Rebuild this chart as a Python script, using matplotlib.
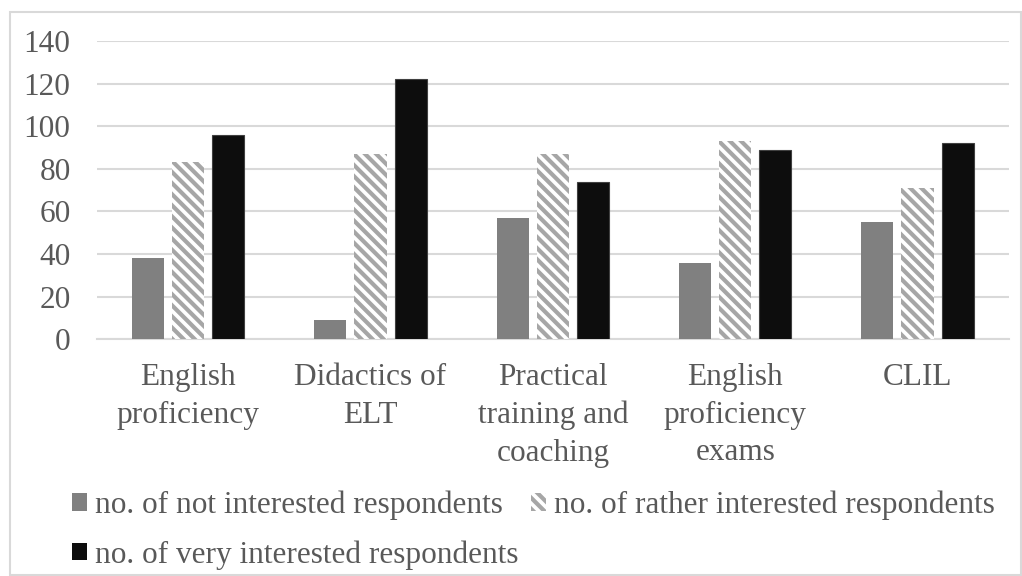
import numpy as np
import matplotlib
matplotlib.use("Agg")
from matplotlib import pyplot as plt
from matplotlib.patches import Rectangle, Patch

categories = ["English\nproficiency", "Didactics of\nELT", "Practical\ntraining and\ncoaching",
              "English\nproficiency\nexams", "CLIL"]
not_interested = [38, 9, 57, 36, 55]
rather_interested = [83, 87, 87, 93, 71]
very_interested = [96, 122, 74, 89, 92]
series_labels = ["no. of not interested respondents",
                 "no. of rather interested respondents",
                 "no. of very interested respondents"]

plt.rcParams['font.family'] = ['Liberation Serif', 'DejaVu Serif']
plt.rcParams['hatch.linewidth'] = 3.0
plt.rcParams['hatch.color'] = '#a6a6a6'

txt = '#595959'
grid = '#d9d9d9'
fs = 22.5

fig = plt.figure(figsize=(10.22, 5.76), dpi=100)
ax = fig.add_axes([0.0949, 0.411, 0.987 - 0.0949, 0.929 - 0.411])

x = np.arange(len(categories))
w = 0.176
step = 0.22
b1 = ax.bar(x - step, not_interested, w, color='#808080', linewidth=0, zorder=3)
b2 = ax.bar(x, rather_interested, w, color='white', edgecolor='#a6a6a6', hatch='\\\\\\',
            linewidth=0, zorder=3)
b3 = ax.bar(x + step, very_interested, w, color='#0d0d0d', edgecolor='#404040',
            linewidth=0.8, zorder=3)

ax.set_xlim(-0.5, len(categories) - 0.5)
ax.set_ylim(0, 140)
ax.set_yticks(np.arange(0, 141, 20))
ax.yaxis.grid(True, color=grid, linewidth=1.5, zorder=0)
ax.set_axisbelow(True)
for s in ['top', 'right', 'left']:
    ax.spines[s].set_visible(False)
ax.spines['bottom'].set_color(grid)
ax.spines['bottom'].set_linewidth(1.5)
ax.tick_params(axis='y', length=0, pad=19, labelsize=fs, labelcolor=txt)
ax.tick_params(axis='x', length=0, pad=17, labelsize=fs, labelcolor=txt)
ax.set_xticks(x)
ax.set_xticklabels(categories, linespacing=1.4)

handles = [Patch(facecolor='#808080'), Patch(facecolor='#0d0d0d'),
           Patch(facecolor='white', edgecolor='#a6a6a6', hatch='\\\\\\', linewidth=0)]
labels = [series_labels[0], series_labels[2], series_labels[1]]
leg = fig.legend(handles, labels, ncol=2, loc='upper left', bbox_to_anchor=(0.043, 0.197),
                 frameon=False, fontsize=fs, handlelength=0.48, handleheight=0.48,
                 handletextpad=0.25, columnspacing=0.4, labelspacing=0.64)
for t in leg.get_texts():
    t.set_color(txt)

fig.patches.append(Rectangle((10 / 1022, 1 / 576), 1 - 11 / 1022, 1 - 13 / 576,
                             transform=fig.transFigure, fill=False, edgecolor=grid, linewidth=1.5))

fig.savefig("out.png", dpi=100)
